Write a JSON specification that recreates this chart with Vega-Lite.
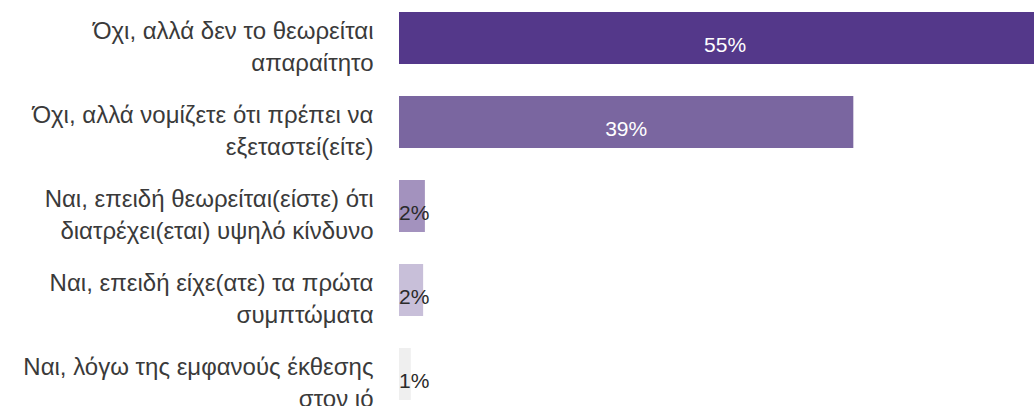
{
  "$schema": "https://vega.github.io/schema/vega-lite/v6.json",
  "autosize": "none",
  "padding": {"left": 399, "top": 0, "right": 0, "bottom": 0},
  "width": 635,
  "height": 406,
  "background": "#ffffff",
  "config": {"view": {"stroke": null}, "font": "Liberation Sans"},
  "data": {
    "values": [
      {"cat": "Όχι, αλλά δεν το θεωρείται|απαραίτητο", "k": "a", "value": 55.4, "label": "55%"},
      {"cat": "Όχι, αλλά νομίζετε ότι πρέπει να|εξεταστεί(είτε)", "k": "b", "value": 38.6, "label": "39%"},
      {"cat": "Ναι, επειδή θεωρείται(είστε) ότι|διατρέχει(εται) υψηλό κίνδυνο", "k": "c", "value": 2.2, "label": "2%"},
      {"cat": "Ναι, επειδή είχε(ατε) τα πρώτα|συμπτώματα", "k": "d", "value": 2.05, "label": "2%"},
      {"cat": "Ναι, λόγω της εμφανούς έκθεσης|στον ιό", "k": "e", "value": 1.0, "label": "1%"}
    ]
  },
  "encoding": {
    "y": {
      "field": "cat",
      "type": "nominal",
      "sort": null,
      "scale": {"paddingInner": 0.381, "paddingOuter": 0.10714, "align": 0.6667},
      "axis": {
        "title": null,
        "domain": false,
        "ticks": false,
        "labelPadding": 26,
        "labelLimit": 400,
        "labelFontSize": 24,
        "labelFont": "Liberation Sans",
        "labelColor": "#3a3a3a",
        "labelBaseline": "alphabetic",
        "labelOffset": 1,
        "labelLineHeight": 32,
        "labelExpr": "split(datum.value, '|')"
      }
    }
  },
  "layer": [
    {
      "mark": {"type": "bar", "clip": true},
      "encoding": {
        "x": {"field": "value", "type": "quantitative", "scale": {"domain": [0, 53.95], "nice": false, "zero": true}, "axis": null},
        "color": {
          "field": "k",
          "type": "nominal",
          "scale": {"domain": ["a", "b", "c", "d", "e"], "range": ["#54388a", "#7a66a0", "#a392be", "#c8bfd9", "#efefef"]},
          "legend": null
        }
      }
    },
    {
      "transform": [{"filter": "datum.value > 10"}],
      "mark": {"type": "text", "align": "center", "baseline": "alphabetic", "dy": 14, "fontSize": 21, "font": "Liberation Sans", "color": "#ffffff"},
      "encoding": {
        "x": {"field": "value", "type": "quantitative", "scale": {"domain": [0, 107.9], "nice": false, "zero": true}, "axis": null},
        "text": {"field": "label"}
      }
    },
    {
      "transform": [{"filter": "datum.value <= 10"}],
      "mark": {"type": "text", "align": "left", "baseline": "alphabetic", "dy": 14, "fontSize": 21, "font": "Liberation Sans", "color": "#2a2a2a"},
      "encoding": {
        "x": {"datum": 0, "type": "quantitative", "scale": {"domain": [0, 53.95], "nice": false, "zero": true}, "axis": null},
        "text": {"field": "label"}
      }
    }
  ],
  "resolve": {"scale": {"x": "independent"}}
}
